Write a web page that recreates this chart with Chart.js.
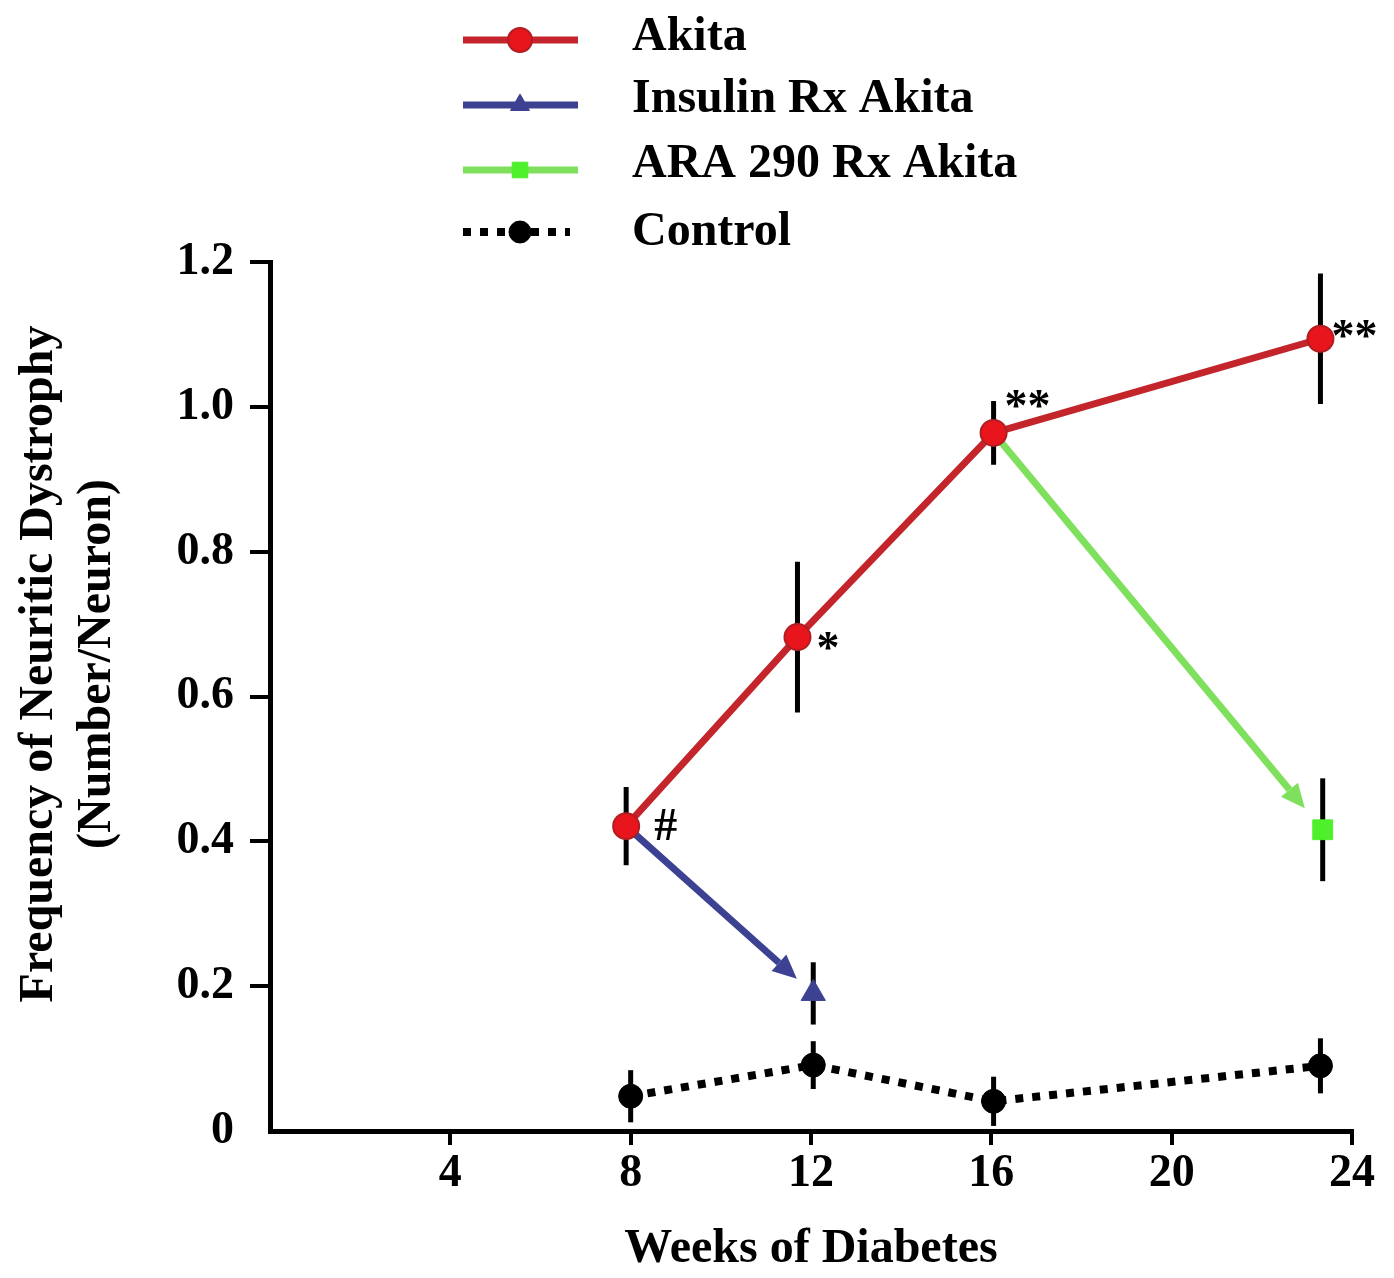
<!DOCTYPE html>
<html>
<head>
<meta charset="utf-8">
<script src="https://cdn.jsdelivr.net/npm/chart.js@4/dist/chart.umd.min.js"></script>
<style>
  body { margin: 0; background: #fff; }
</style>
</head>
<body>
<canvas id="myChart" width="1394" height="1278"></canvas>
<script>
// values (weeks of diabetes, neuritic dystrophy per neuron)
var akitaWeeks = [7.9, 11.7, 16.05, 23.3];
var akitaMean = [0.421, 0.682, 0.964, 1.094];
var akitaErr = [0.054, 0.104, 0.044, 0.09];
var akitaMarks = ["#", "*", "**", "**"];

var insulinWeeks = [7.9, 12.05];
var insulinMean = [0.421, 0.19];
var insulinErr = [null, 0.043];

var araWeeks = [16.05, 23.35];
var araMean = [0.964, 0.416];
var araErr = [null, 0.071];

var controlWeeks = [8, 12.05, 16.05, 23.3];
var controlMean = [0.048, 0.091, 0.041, 0.09];
var controlErr = [0.036, 0.033, 0.034, 0.038];

var xTicks = [4, 8, 12, 16, 20, 24];
var legendLabels = ["Akita", "Insulin Rx Akita", "ARA 290 Rx Akita", "Control"];
var legendMarkers = ["circle", "triangle", "rect", "circle"];

var serif = '"Liberation Serif", "Times New Roman", serif';
Chart.defaults.font.family = serif;
Chart.defaults.color = "#000";

function pts(xs, ys) {
  return xs.map(function (x, i) { return { x: x, y: ys[i] }; });
}

var errors = [akitaErr, insulinErr, araErr, controlErr];

// error bars, drawn under the lines and markers
var errorBars = {
  id: "errorBars",
  beforeDatasetsDraw: function (chart) {
    var ctx = chart.ctx, y = chart.scales.y, x = chart.scales.x;
    ctx.save();
    ctx.strokeStyle = "#000";
    ctx.lineWidth = 5;
    chart.data.datasets.forEach(function (ds, di) {
      ds.data.forEach(function (p, i) {
        var e = errors[di][i];
        if (e == null) return;
        var px = x.getPixelForValue(p.x);
        ctx.beginPath();
        ctx.moveTo(px, y.getPixelForValue(p.y + e));
        ctx.lineTo(px, y.getPixelForValue(p.y - e));
        ctx.stroke();
      });
    });
    ctx.restore();
  }
};

// treatment arrows from the Akita point to the treated group
function arrow(ctx, x0, y0, x1, y1, gap, color) {
  var a = Math.atan2(y1 - y0, x1 - x0);
  var tx = x1 - Math.cos(a) * gap, ty = y1 - Math.sin(a) * gap;
  var head = 24, half = 11;
  var bx = tx - Math.cos(a) * head, by = ty - Math.sin(a) * head;
  ctx.strokeStyle = color;
  ctx.fillStyle = color;
  ctx.lineWidth = 7;
  ctx.beginPath();
  ctx.moveTo(x0, y0);
  ctx.lineTo(bx, by);
  ctx.stroke();
  ctx.beginPath();
  ctx.moveTo(tx, ty);
  ctx.lineTo(bx - Math.sin(a) * half, by + Math.cos(a) * half);
  ctx.lineTo(bx + Math.sin(a) * half, by - Math.cos(a) * half);
  ctx.closePath();
  ctx.fill();
}

var arrows = {
  id: "arrows",
  beforeDatasetsDraw: function (chart) {
    var ctx = chart.ctx;
    ctx.save();
    [1, 2].forEach(function (di) {
      var meta = chart.getDatasetMeta(di);
      var a = meta.data[0], b = meta.data[1];
      arrow(ctx, a.x, a.y, b.x, b.y, di == 1 ? 22 : 28, chart.data.datasets[di].borderColor);
    });
    ctx.restore();
  }
};

// significance marks, legend and y title
var extras = {
  id: "extras",
  afterDraw: function (chart) {
    var ctx = chart.ctx;
    ctx.save();
    ctx.fillStyle = "#000";
    ctx.font = "bold 46px " + serif;
    ctx.textBaseline = "middle";
    ctx.textAlign = "left";
    var offs = [[28, 2], [19, 14], [11, -24], [11, 0]];
    chart.getDatasetMeta(0).data.forEach(function (el, i) {
      ctx.fillText(akitaMarks[i], el.x + offs[i][0], el.y + offs[i][1]);
    });

    // legend
    var rows = [40, 105, 170, 232];
    var base = [50, 112, 177, 245];
    chart.data.datasets.forEach(function (ds, i) {
      var yy = rows[i];
      ctx.save();
      ctx.strokeStyle = ds.borderColor;
      ctx.lineWidth = ds.borderWidth;
      if (ds.borderDash) ctx.setLineDash(ds.borderDash);
      ctx.beginPath();
      ctx.moveTo(463, yy);
      ctx.lineTo(i == 3 ? 570 : 578, yy);
      ctx.stroke();
      ctx.restore();
      var fill = ds.pointBackgroundColor;
      ctx.fillStyle = fill;
      ctx.strokeStyle = Array.isArray(ds.pointBorderColor) ? ds.pointBorderColor[1] : ds.pointBorderColor;
      ctx.lineWidth = ds.pointBorderWidth;
      Chart.helpers.drawPoint(ctx, {
        pointStyle: legendMarkers[i],
        radius: i == 0 ? 12 : 11,
        borderWidth: ds.pointBorderWidth,
        rotation: 0
      }, 520, yy);
      ctx.fillStyle = "#000";
      ctx.font = "bold 48px " + serif;
      ctx.textBaseline = "alphabetic";
      ctx.fillText(legendLabels[i], 632, base[i]);
    });

    // y axis title
    ctx.translate(0, 664);
    ctx.rotate(-Math.PI / 2);
    ctx.textAlign = "center";
    ctx.textBaseline = "alphabetic";
    ctx.font = "bold 48px " + serif;
    ctx.fillText("Frequency of Neuritic Dystrophy", 0, 52);
    ctx.fillText("(Number/Neuron)", 0, 110);
    ctx.restore();
  }
};

new Chart("myChart", {
  type: "scatter",
  data: {
    datasets: [{
      label: legendLabels[0],
      data: pts(akitaWeeks, akitaMean),
      showLine: true,
      borderColor: "#c3252b",
      borderWidth: 7,
      pointStyle: "circle",
      pointRadius: 13,
      pointBackgroundColor: "#e8161c",
      pointBorderColor: "#b01e23",
      pointBorderWidth: 2
    }, {
      label: legendLabels[1],
      data: pts(insulinWeeks, insulinMean),
      showLine: false,
      borderColor: "#3c4291",
      borderWidth: 7,
      pointStyle: ["circle", "triangle"],
      pointRadius: [0, 14],
      pointBackgroundColor: "#3c4291",
      pointBorderColor: "#3c4291",
      pointBorderWidth: 1
    }, {
      label: legendLabels[2],
      data: pts(araWeeks, araMean),
      showLine: false,
      borderColor: "#7ee05c",
      borderWidth: 7,
      pointStyle: ["circle", "rect"],
      pointRadius: [0, 14],
      pointBackgroundColor: "#4ef02c",
      pointBorderColor: "#4ef02c",
      pointBorderWidth: 1
    }, {
      label: legendLabels[3],
      data: pts(controlWeeks, controlMean),
      showLine: true,
      borderColor: "#000",
      borderWidth: 8,
      borderDash: [8, 9],
      pointStyle: "circle",
      pointRadius: 12,
      pointBackgroundColor: "#000",
      pointBorderColor: "#000",
      pointBorderWidth: 1
    }]
  },
  options: {
    responsive: false,
    animation: false,
    events: [],
    layout: { padding: { top: 262, right: 42, left: 0, bottom: 0 } },
    plugins: {
      legend: { display: false },
      tooltip: { enabled: false }
    },
    scales: {
      x: {
        type: "linear",
        min: 0,
        max: 24,
        afterFit: function (s) { s.height = 147; },
        afterBuildTicks: function (s) {
          s.ticks = [0].concat(xTicks).map(function (v) { return { value: v }; });
        },
        ticks: {
          font: { size: 46, weight: "bold" },
          padding: 2,
          maxRotation: 0,
          callback: function (v) { return v === 0 ? "" : v; }
        },
        grid: {
          drawOnChartArea: false,
          tickLength: 14,
          lineWidth: 4,
          color: function (c) { return c.tick && c.tick.value === 0 ? "rgba(0,0,0,0)" : "#000"; }
        },
        border: { color: "#000", width: 5 },
        title: {
          display: true,
          text: "Weeks of Diabetes",
          font: { size: 48, weight: "bold" },
          padding: { top: 0, bottom: 0 }
        }
      },
      y: {
        min: 0,
        max: 1.2,
        afterFit: function (s) { s.width = 270; },
        ticks: {
          stepSize: 0.2,
          font: { size: 46, weight: "bold" },
          padding: 16,
          callback: function (v) { return v === 0 ? "0" : v.toFixed(1); }
        },
        grid: {
          drawOnChartArea: false,
          tickLength: 20,
          lineWidth: 4,
          color: function (c) { return c.tick && c.tick.value === 0 ? "rgba(0,0,0,0)" : "#000"; }
        },
        border: { color: "#000", width: 5 }
      }
    }
  },
  plugins: [errorBars, arrows, extras]
});
</script>
</body>
</html>
